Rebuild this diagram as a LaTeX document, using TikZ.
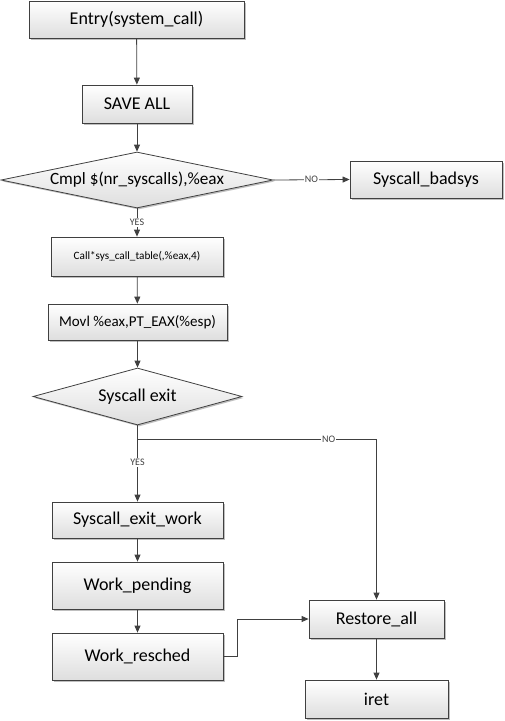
\documentclass[tikz,border=0pt]{standalone}
\usepackage{fontspec}
\setmainfont{Carlito}
\usetikzlibrary{arrows.meta,shapes.geometric,shadows,calc}
\definecolor{ln}{RGB}{64,64,64}
\begin{document}
\begin{tikzpicture}[x=1pt,y=-1pt,
  box/.style={draw=ln, line width=0.8pt, top color=white, bottom color=black!13,
    drop shadow={shadow xshift=1.5pt, shadow yshift=-1.5pt, opacity=0.25, fill=black},
    inner sep=0pt, font=\fontsize{18}{20}\selectfont},
  dec/.style={box, diamond, aspect=4},
  arr/.style={draw=ln, line width=0.8pt, -{Triangle[length=7pt,width=6pt]}},
  lbl/.style={fill=white, inner sep=1pt, font=\fontsize{10}{11}\selectfont, text=ln}]
\useasboundingbox (0,0) rectangle (504,721);
\node[box, minimum width=215pt, minimum height=37pt] (entry) at (136.5,19.5) {Entry(system\_call)};
\node[box, minimum width=110pt, minimum height=38pt] (save) at (137,104) {SAVE ALL};
\node[dec, minimum width=272pt, minimum height=56pt, font=\fontsize{17.2}{19}\selectfont] (d1) at (137,180) {\makebox[0pt][c]{Cmpl \$(nr\_syscalls),\%eax}};
\node[box, minimum width=152pt, minimum height=37pt] (bad) at (426,179.5) {Syscall\_badsys};
\node[box, minimum width=172pt, minimum height=39pt, font=\fontsize{11.2}{13}\selectfont] (call) at (137,256.5) {Call*sys\_call\_table(,\%eax,4)};
\node[box, minimum width=179pt, minimum height=36pt, font=\fontsize{15}{17}\selectfont] (movl) at (137.5,322) {Movl \%eax,PT\_EAX(\%esp)};
\node[dec, minimum width=209pt, minimum height=57pt] (d2) at (137.5,396.5) {\makebox[0pt][c]{Syscall exit}};
\node[box, minimum width=171pt, minimum height=36pt] (sexw) at (137.5,520) {Syscall\_exit\_work};
\node[box, minimum width=171pt, minimum height=47pt] (wpend) at (137.5,585.5) {Work\_pending};
\node[box, minimum width=171pt, minimum height=47pt] (wres) at (137.5,656.5) {Work\_resched};
\node[box, minimum width=135pt, minimum height=38pt] (rest) at (376.5,619) {Restore\_all};
\node[box, minimum width=143pt, minimum height=38pt] (iret) at (376.5,699) {iret};
\coordinate (br) at (137.5,439);
\coordinate (corner) at (rest.north |- br);
\coordinate (jog) at ($(wres.east)+(14,0)$);
\draw[arr] (entry) -- (save);
\draw[arr] (save) -- (d1);
\draw[arr] (d1.east) -- node[lbl] {NO} (bad.west);
\draw[arr] (d1.south) -- node[lbl] {YES} (call.north);
\draw[arr] (call) -- (movl);
\draw[arr] (movl) -- (d2.north);
\draw[arr] (d2.south) -- node[lbl, pos=0.49] {YES} (sexw.north);
\draw[arr] (br) -- node[lbl, pos=0.8] {NO} (corner) -- (rest.north);
\draw[arr] (sexw) -- (wpend);
\draw[arr] (wpend) -- (wres);
\draw[arr] (wres.east) -- (jog) |- (rest.west);
\draw[arr] (rest) -- (iret);
\end{tikzpicture}
\end{document}
